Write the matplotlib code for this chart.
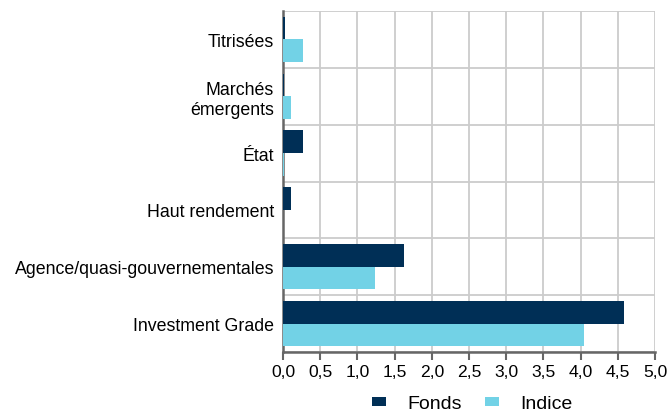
import matplotlib.pyplot as plt
import numpy as np

plt.rcParams['font.family'] = ['Liberation Sans', 'DejaVu Sans']

categories = ['Titrisées', 'Marchés\némergents', 'État', 'Haut rendement',
              'Agence/quasi-gouvernementales', 'Investment Grade']
fonds = [0.03, 0.02, 0.27, 0.11, 1.62, 4.58]
indice = [0.27, 0.11, 0.02, 0.0, 1.24, 4.04]
xticks = np.arange(0, 5.01, 0.5)
xlabels = ['0,0', '0,5', '1,0', '1,5', '2,0', '2,5', '3,0', '3,5', '4,0', '4,5', '5,0']

c_fonds = '#002f56'
c_indice = '#72d2e6'

fig = plt.figure(figsize=(6.68, 4.14), dpi=100)
ax = fig.add_axes([283 / 668, 1 - 353 / 414, 372 / 668, 341 / 414])

y = np.arange(len(categories))
h = 0.4
ax.barh(y - h / 2, fonds, height=h, color=c_fonds, label='Fonds', zorder=3)
ax.barh(y + h / 2, indice, height=h, color=c_indice, label='Indice', zorder=3)

ax.set_ylim(len(categories) - 0.5, -0.5)
ax.set_xlim(0, 5)
ax.set_yticks(y)
ax.set_yticklabels(categories, fontsize=12.8, multialignment='right')
ax.set_xticks(xticks)
ax.set_xticklabels(xlabels, fontsize=12.6)
ax.tick_params(axis='y', length=0, pad=6.5)
ax.tick_params(axis='x', length=6, color='#666666', width=1.5, pad=3)

ax.set_yticks(np.arange(-0.5, len(categories) - 0.4, 1), minor=True)
ax.tick_params(axis='y', which='minor', length=0)
ax.grid(axis='x', color='#cccccc', lw=1.3, zorder=0)
ax.grid(axis='y', which='minor', color='#cccccc', lw=1.3, zorder=0)

for s in ['top', 'right']:
    ax.spines[s].set_visible(False)
for s in ['left', 'bottom']:
    ax.spines[s].set_color('#666666')
    ax.spines[s].set_linewidth(1.8)

fig.legend(loc='center', bbox_to_anchor=(0.707, 0.022), ncol=2, frameon=False,
           fontsize=14, handlelength=0.72, handleheight=0.36, handletextpad=1.08,
           columnspacing=1.2, borderpad=0)

fig.savefig('out.png', dpi=100)
